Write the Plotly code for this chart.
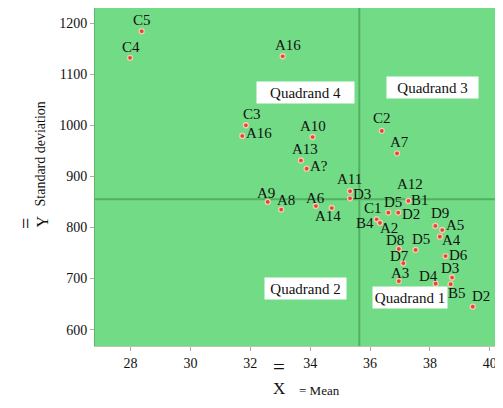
import plotly.graph_objects as go

# ---- data ----
labels = ["C5", "C4", "A16", "C3", "A16", "A10", "A13", "A?", "A11", "D3",
          "A9", "A8", "A6", "A14", "C2", "A7", "A12", "B1", "D5", "D2",
          "C1", "B4", "A2", "D9", "A5", "A4", "D8", "D5", "D7", "D6",
          "D3", "A3", "D4", "B5", "D2"]
mean_vals = [28.37, 27.98, 33.08, 31.85, 31.73, 34.08, 33.69, 33.88, 35.33, 35.33,
             32.58, 33.03, 34.19, 34.72, 36.39, 36.90, 37.28, 37.28, 36.61, 36.94,
             36.22, 36.33, 36.33, 38.18, 38.41, 38.33, 36.96, 37.52, 37.11, 38.52,
             38.74, 36.96, 38.19, 38.69, 39.43]
sd_vals = [1184, 1132, 1135, 1000, 979, 977, 931, 915, 871, 857,
           850, 835, 842, 838, 989, 945, 852, 852, 829, 829,
           816, 809, 809, 803, 795, 782, 758, 756, 730, 744,
           702, 695, 690, 689, 645]

# label offsets from their point (pixels, right / down) - styling only
label_dx = [0, 1, 5, 6, 17, 0, 4, 12, -1, 12,
            -2, 5, 0, -4, 0, 2, 2, 12, 5, 13,
            -4, -15, 9, 5, 13, 12, -4, 5, -4, 13,
            -2, 1, -7, 6, 8]
label_dy = [-11, -11, -11, -11, -3, -11, -11, -3, -12, -4,
            -9, -10, -8, 8, -13, -11, -17, -1, -11, 1,
            -11, 0, 5, -13, -5, 3, -9, -11, -7, -1,
            -10, -8, -8, 9, -11]

grand_mean_x = 35.64
grand_mean_y = 855

quad_names = ["Quadrand 4", "Quadrand 3", "Quadrand 2", "Quadrand 1"]
quad_x = [33.84, 38.08, 33.84, 37.33]
quad_y = [1065, 1073, 680, 662]
quad_w = [95, 89, 79, 72]

x_ticks = [28, 30, 32, 34, 36, 38, 40]
y_ticks = [600, 700, 800, 900, 1000, 1100, 1200]

SERIF = "Liberation Serif"
INK = "#111111"

fig = go.Figure()
fig.add_trace(go.Scatter(
    x=mean_vals, y=sd_vals, mode="markers",
    marker=dict(size=5, color="#e0463c",
                line=dict(width=1.3, color="rgba(250,205,175,0.95)")),
    hoverinfo="skip", showlegend=False,
))

for lab, xv, yv, dx, dy in zip(labels, mean_vals, sd_vals, label_dx, label_dy):
    fig.add_annotation(x=xv, y=yv, xref="x", yref="y", text=lab, showarrow=False,
                       xshift=dx, yshift=-dy,
                       font=dict(family=SERIF, size=15, color=INK))

fig.add_shape(type="line", xref="x", yref="paper", x0=grand_mean_x, x1=grand_mean_x,
              y0=0, y1=1, line=dict(color="#52b061", width=2), layer="below")
fig.add_shape(type="line", xref="paper", yref="y", x0=0, x1=1,
              y0=grand_mean_y, y1=grand_mean_y, line=dict(color="#52b061", width=2), layer="below")

for name, qx, qy, qw in zip(quad_names, quad_x, quad_y, quad_w):
    fig.add_annotation(x=qx, y=qy, xref="x", yref="y", text=name, showarrow=False,
                       font=dict(family=SERIF, size=15, color=INK),
                       bgcolor="white", width=qw, height=19, borderpad=1, align="center")

# axis titles (double-bar notation); page plot area: x 95..503, y 8..346
def px(xp):
    return (xp - 95) / 408.0

def py(yp):
    return (346 - yp) / 338.0

fig.add_annotation(x=px(13), y=py(224), xref="paper", yref="paper", text="=",
                   showarrow=False, textangle=-90,
                   font=dict(family=SERIF, size=20, color=INK))
fig.add_annotation(x=px(31), y=py(222), xref="paper", yref="paper", text="Y",
                   showarrow=False, textangle=-90,
                   font=dict(family=SERIF, size=16, color=INK))
fig.add_annotation(x=px(30), y=py(154), xref="paper", yref="paper", text="Standard deviation",
                   showarrow=False, textangle=-90,
                   font=dict(family=SERIF, size=14, color=INK))
fig.add_annotation(x=px(279), y=py(381), xref="paper", yref="paper", text="=",
                   showarrow=False, font=dict(family=SERIF, size=21, color=INK))
fig.add_annotation(x=px(279), y=py(400), xref="paper", yref="paper", text="X",
                   showarrow=False, font=dict(family=SERIF, size=17, color=INK))
fig.add_annotation(x=px(319), y=py(400), xref="paper", yref="paper", text="= Mean",
                   showarrow=False, font=dict(family=SERIF, size=13, color=INK))

fig.update_layout(
    width=495, height=400,
    margin=dict(l=87, r=0, t=0, b=62),
    paper_bgcolor="white", plot_bgcolor="#71dc85",
    font=dict(family=SERIF, size=14, color=INK),
    xaxis=dict(range=[26.81, 40.44], tickvals=x_ticks, showgrid=False, zeroline=False,
               ticks="outside", ticklen=4, tickcolor="#aaaaaa", showline=True,
               linecolor="#b5c9b8", linewidth=1, tickfont=dict(family=SERIF, size=14)),
    yaxis=dict(range=[568, 1229.4], tickvals=y_ticks, showgrid=False, zeroline=False,
               ticks="outside", ticklen=4, tickcolor="#aaaaaa", showline=True,
               linecolor="#5fb46e", linewidth=1, tickfont=dict(family=SERIF, size=14)),
)

fig.write_html("out.html")
